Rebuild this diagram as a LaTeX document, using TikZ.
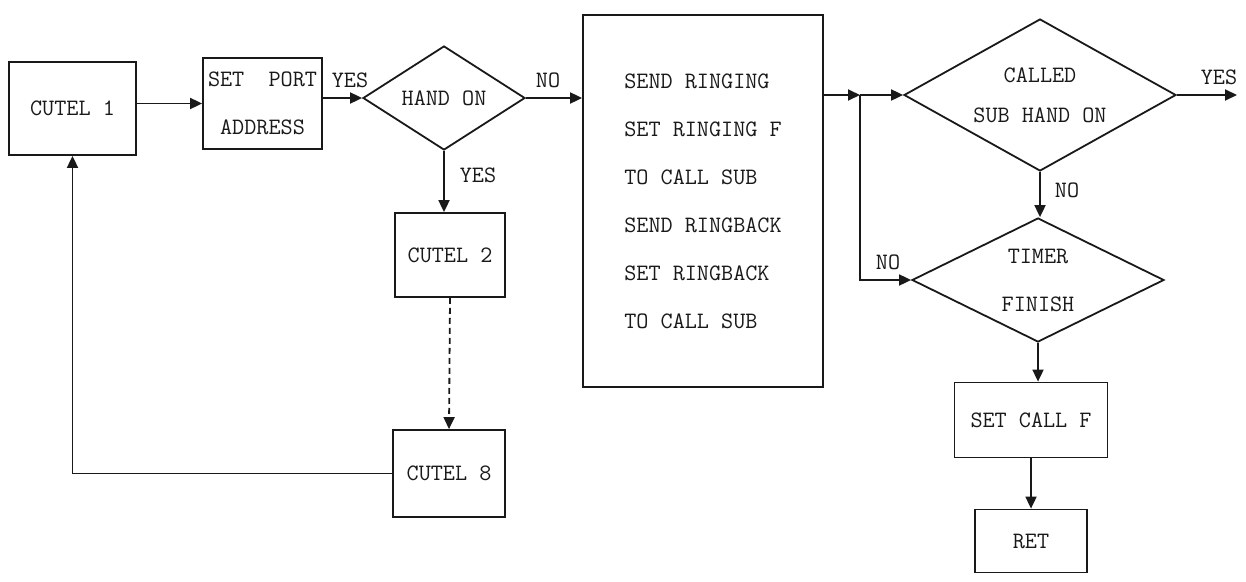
\documentclass[tikz,border=0pt]{standalone}
\usepackage{fontspec}
\usetikzlibrary{shapes.geometric,arrows.meta}
\begin{document}
\begin{tikzpicture}[x=1pt,y=-1pt,
  ink/.style={draw=black!90, line width=1.8pt},
  lbl/.style={font=\ttfamily\fontsize{23.5}{48}\selectfont, text=black!90, inner sep=0pt},
  box/.style={ink, lbl, rectangle, align=center},
  dec/.style={ink, lbl, diamond, align=center},
  arr/.style={ink, -{Triangle[length=12pt,width=11pt]}},
]
\useasboundingbox[fill=white] (0,0) rectangle (1246,581);

\node[box, minimum width=127pt, minimum height=93pt] (c1) at (72.5,108.5) {CUTEL 1};
\node[box, minimum width=119pt, minimum height=91pt] (sp) at (262.5,103.5) {SET\ \ PORT\\ADDRESS};
\node[dec, minimum width=162pt, minimum height=104pt, aspect=1.56] (ho) at (444,98) {HAND ON};
\node[box, minimum width=110pt, minimum height=84pt] (c2) at (450,255) {CUTEL 2};
\node[box, minimum width=112pt, minimum height=87pt] (c8) at (449,473.5) {CUTEL 8};
\node[box, minimum width=240pt, minimum height=372pt, align=left] (big) at (703,201)
  {SEND RINGING\\SET RINGING F\\TO CALL SUB\\SEND RINGBACK\\SET RINGBACK\\TO CALL SUB};
\node[dec, minimum width=272pt, minimum height=152pt, aspect=1.8,
  font=\ttfamily\fontsize{23.5}{40}\selectfont] (cs) at (1040,95) {CALLED\\SUB HAND ON};
\node[dec, minimum width=252pt, minimum height=124pt, aspect=2] (ts) at (1038,280) {TIMER\\FINISH};
\node[box, minimum width=153pt, minimum height=75pt] (scf) at (1031,420) {SET CALL F};
\node[box, minimum width=112pt, minimum height=63pt] (ret) at (1031,541) {RET};

\node[lbl] (y1) at (350,80) {YES};
\node[lbl] (n1) at (548,80) {NO};
\node[lbl] (y2) at (478,175) {YES};
\node[lbl] (y3) at (1219,77) {YES};
\node[lbl] (n2) at (1067,190) {NO};
\node[lbl] (n3) at (888,262) {NO};

\coordinate (j) at (860,95);
\coordinate (yend) at (1237,95);

\draw[arr] (sp.west -| c1.east) -- (sp.west);
\draw[arr] (ho.west -| sp.east) -- (ho.west);
\draw[arr] (ho.east) -- (ho.east -| big.west);
\draw[arr] (ho.south) -- (ho.south |- c2.north);
\draw[arr, dash pattern=on 6pt off 4pt] (c2.south) -- (c8.north);
\draw[arr] (c8.west) -- (c8.west -| c1.south) -- (c1.south);
\draw[arr] (j -| big.east) -- (j);
\draw[arr] (j) -- (cs.west);
\draw[arr] (j) -- (j |- ts.west) -- (ts.west);
\draw[arr] (cs.east) -- (yend);
\draw[arr] (cs.south) -- (cs.south |- ts.north);
\draw[arr] (ts.south) -- (ts.south |- scf.north);
\draw[arr] (scf.south) -- (ret.north);
\end{tikzpicture}
\end{document}
